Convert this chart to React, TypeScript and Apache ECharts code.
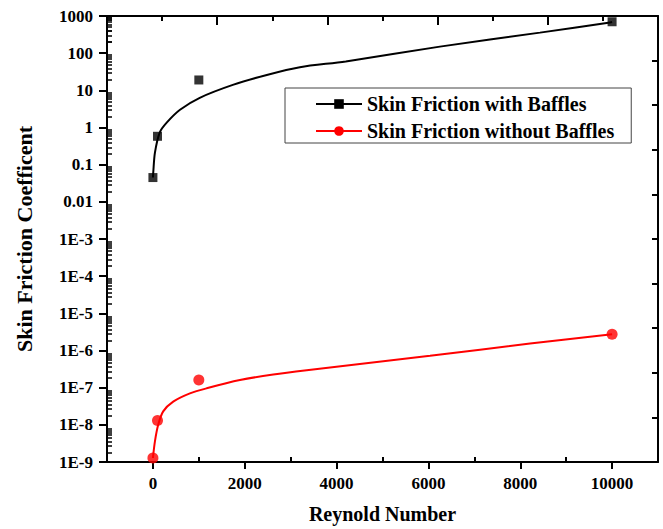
import React, { useEffect, useRef } from "react";
import * as echarts from "echarts";

const seriesNames = ["Skin Friction with Baffles", "Skin Friction without Baffles"];

// measured points
const reynolds = [0, 100, 1000, 10000];
const withBaffles = [0.045, 0.58, 19, 700];
const withoutBaffles = [1.28e-9, 1.3e-8, 1.6e-7, 2.75e-6];

// fitted curves
const fitWithX = [0, 7, 44, 150, 300, 590, 1020, 1740, 2480, 3200, 4200, 6250, 8430, 9920, 10000];
const fitWithY = [0.045, 0.061, 0.21, 0.74, 1.35, 3.0, 6.3, 14, 26, 42, 60, 150, 357, 660, 690];
const fitWithoutX = [0, 44, 115, 224, 442, 806, 1170, 1895, 2621, 3349, 6035, 8214, 10000];
const fitWithoutY = [1.28e-9, 3.6e-9, 1.0e-8, 2.3e-8, 4.2e-8, 7.0e-8, 9.6e-8, 1.6e-7, 2.27e-7, 2.96e-7, 7.2e-7, 1.54e-6, 2.75e-6];

const yTickLabels = ["1E-9", "1E-8", "1E-7", "1E-6", "1E-5", "1E-4", "1E-3", "0.01", "0.1", "1", "10", "100", "1000"];
const yMin = 1e-9;
const yMax = 1000;
// log-axis minor tick multipliers (2..9 within each decade)
const minorTickMultipliers = [2, 3, 4, 5, 6, 7, 8, 9];

const FONT = "'Liberation Serif', 'Times New Roman', serif";

const GRID = { left: 107, right: 5, top: 16, bottom: 65 };
const CHART_H = 529;

export default function App() {
  const ref = useRef<HTMLDivElement>(null);
  useEffect(() => {
    if (!ref.current) return;
    const chart = echarts.init(ref.current, undefined, { renderer: "svg" });
    const labelStyle = { fontFamily: FONT, fontWeight: "bold" as const, fontSize: 17, color: "#000" };
    const zip = (xs: number[], ys: number[]) => xs.map((x, i) => [x, ys[i]]);
    const tickLine = (w: number) => ({ color: "#000", width: w, opacity: 1 });

    const decades = Math.log10(yMax / yMin);
    const plotH = CHART_H - GRID.top - GRID.bottom;
    const pxPerDecade = plotH / decades;

    // extra grids, each shifted so that its log axis ticks fall on k*10^n
    const minorGrids = minorTickMultipliers.map((k) => {
      const lk = Math.log10(k);
      return {
        left: GRID.left,
        right: GRID.right,
        top: GRID.top + (1 - lk) * pxPerDecade,
        bottom: GRID.bottom + lk * pxPerDecade,
      };
    });
    const minorX = minorTickMultipliers.map((_, i) => ({
      type: "value",
      gridIndex: i + 1,
      min: 0,
      max: 1,
      show: false,
    }));
    const minorY = minorTickMultipliers.map((k, i) => ({
      type: "log",
      logBase: 10,
      gridIndex: i + 1,
      position: "left",
      min: k * yMin,
      max: (k * yMax) / 10,
      interval: 1,
      axisLine: { show: false, onZero: false },
      axisTick: { show: true, inside: true, length: 5, lineStyle: tickLine(1.5) },
      axisLabel: { show: false },
      splitLine: { show: false },
    }));

    chart.setOption({
      animation: false,
      backgroundColor: "#fff",
      grid: [{ ...GRID }, ...minorGrids],
      legend: {
        orient: "vertical",
        left: 285,
        top: 88,
        padding: [5, 17, 1, 30],
        itemWidth: 46,
        itemHeight: 12,
        itemGap: 5,
        borderColor: "#444",
        borderWidth: 1,
        backgroundColor: "#fff",
        textStyle: { fontFamily: FONT, fontWeight: "bold", fontSize: 20, color: "#000", lineHeight: 22 },
        data: seriesNames,
      },
      xAxis: [
        {
          type: "value",
          gridIndex: 0,
          position: "bottom",
          min: -1000,
          max: 11000,
          splitNumber: 6,
          name: "Reynold Number",
          nameLocation: "middle",
          nameGap: 42,
          nameTextStyle: { fontFamily: FONT, fontWeight: "bold", fontSize: 20, color: "#000" },
          axisLine: { show: true, onZero: false, lineStyle: { color: "#000", width: 2 } },
          axisTick: { show: true, inside: false, length: 7, lineStyle: tickLine(2) },
          axisLabel: { ...labelStyle, margin: 13, showMinLabel: false, showMaxLabel: false, formatter: (v: number) => String(v) },
          splitLine: { show: false },
        },
        {
          type: "value",
          gridIndex: 0,
          position: "top",
          min: 0,
          max: 10,
          interval: 2,
          axisLine: { show: true, onZero: false, lineStyle: { color: "#000", width: 2 } },
          axisTick: { show: true, inside: true, length: 9, lineStyle: tickLine(2) },
          minorTick: { show: true, splitNumber: 2, length: 5, lineStyle: tickLine(2) },
          axisLabel: { show: false },
          splitLine: { show: false },
        },
        {
          type: "value",
          gridIndex: 0,
          position: "bottom",
          min: -1000,
          max: 11000,
          interval: 2000,
          axisLine: { show: false, onZero: false },
          axisTick: { show: true, inside: true, length: 5, lineStyle: tickLine(2) },
          axisLabel: { show: false },
          splitLine: { show: false },
        },
        ...minorX,
      ],
      yAxis: [
        {
          type: "log",
          logBase: 10,
          gridIndex: 0,
          position: "left",
          min: yMin,
          max: yMax,
          interval: 1,
          name: "Skin Friction Coefficent",
          nameLocation: "middle",
          nameGap: 72,
          nameTextStyle: { fontFamily: FONT, fontWeight: "bold", fontSize: 22, color: "#000" },
          axisLine: { show: true, onZero: false, lineStyle: { color: "#000", width: 2 } },
          axisTick: { show: true, inside: false, length: 8, lineStyle: tickLine(2) },
          axisLabel: {
            ...labelStyle,
            margin: 14,
            formatter: (v: number) => {
              const e = Math.round(Math.log10(v));
              return yTickLabels[e + 9] ?? "";
            },
          },
          splitLine: { show: false },
        },
        {
          type: "value",
          gridIndex: 0,
          position: "right",
          min: 0,
          max: 10,
          interval: 1,
          axisLine: { show: true, onZero: false, lineStyle: { color: "#000", width: 2 } },
          axisTick: { show: true, inside: true, length: 6, lineStyle: tickLine(2) },
          axisLabel: { show: false },
          splitLine: { show: false },
        },
        ...minorY,
      ],
      series: [
        {
          name: seriesNames[0],
          type: "line",
          xAxisIndex: 0,
          yAxisIndex: 0,
          data: zip(fitWithX, fitWithY),
          smooth: 0.3,
          symbol: "rect",
          showSymbol: false,
          lineStyle: { color: "#000", width: 2 },
          itemStyle: { color: "#000" },
          z: 3,
        },
        {
          name: seriesNames[0],
          type: "scatter",
          xAxisIndex: 0,
          yAxisIndex: 0,
          data: zip(reynolds, withBaffles),
          symbol: "rect",
          symbolSize: 9,
          itemStyle: { color: "#000" },
          z: 4,
        },
        {
          name: seriesNames[1],
          type: "line",
          xAxisIndex: 0,
          yAxisIndex: 0,
          data: zip(fitWithoutX, fitWithoutY),
          smooth: 0.3,
          symbol: "circle",
          showSymbol: false,
          lineStyle: { color: "#ff0000", width: 2 },
          itemStyle: { color: "#ff0000" },
          z: 3,
        },
        {
          name: seriesNames[1],
          type: "scatter",
          xAxisIndex: 0,
          yAxisIndex: 0,
          data: zip(reynolds, withoutBaffles),
          symbol: "circle",
          symbolSize: 11,
          itemStyle: { color: "#ff0000" },
          z: 4,
        },
      ],
    });
    return () => chart.dispose();
  }, []);
  return <div ref={ref} style={{ position: "absolute", left: 0, top: 0, width: 663, height: 529 }} />;
}
